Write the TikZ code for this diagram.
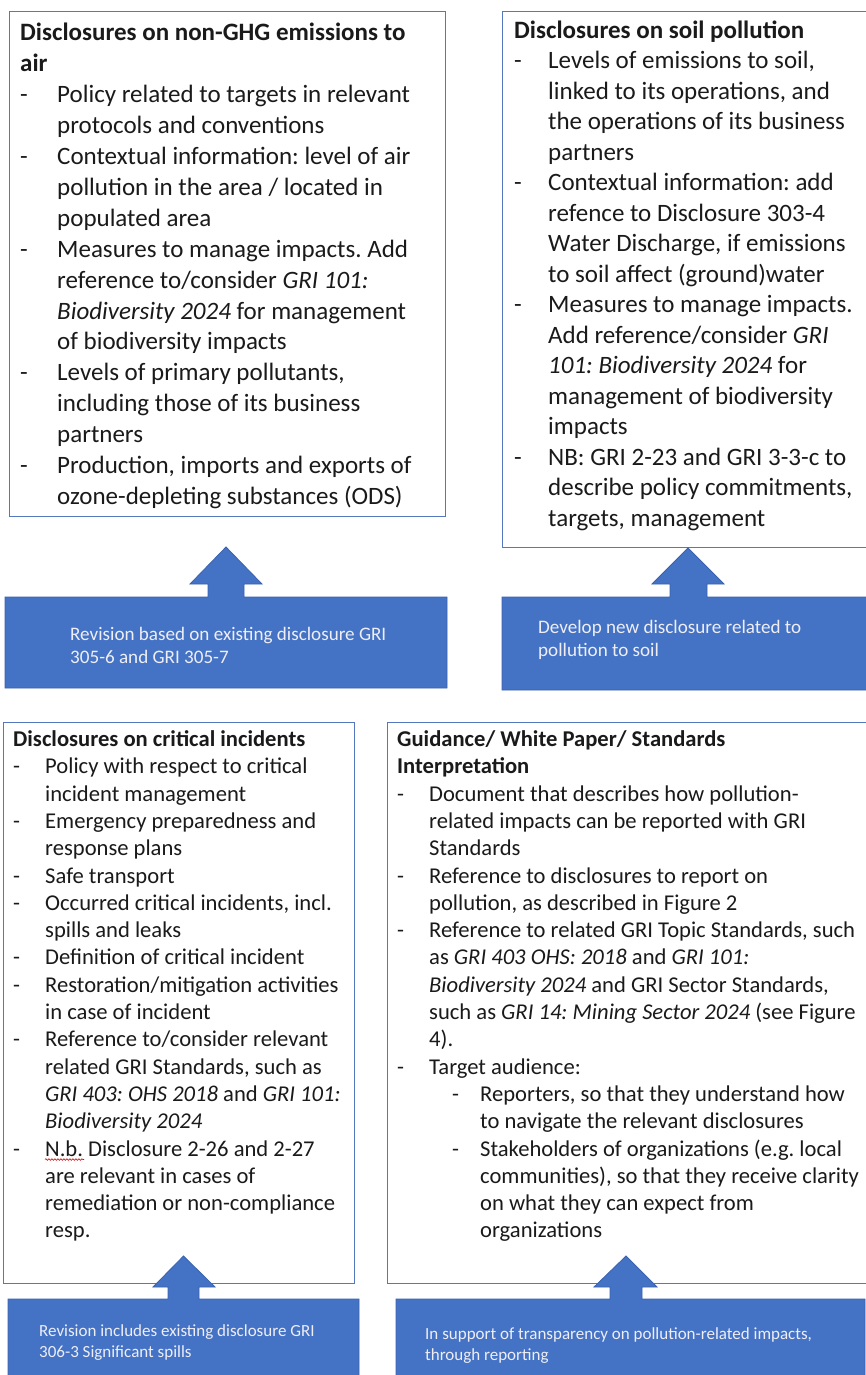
\documentclass[tikz,border=0pt]{standalone}
\usepackage{fontspec}
\setmainfont{Carlito}
\frenchspacing
\usetikzlibrary{decorations.pathmorphing}
\definecolor{gblue}{HTML}{4472C4}
\definecolor{gdark}{HTML}{3A63AD}
\definecolor{boxline}{HTML}{5577BE}
\definecolor{txt}{HTML}{1A1A1A}
\definecolor{ltxt}{HTML}{EEEEF4}
\newcommand{\Ln}[1]{\hbox{#1}}
\newcommand{\Lines}[2]{\vtop{\baselineskip=#1\lineskiplimit=-100pt\lineskip=0pt #2}}
\newcommand{\Bu}[2]{\Ln{\makebox[#1][l]{-}#2}}
\newcommand{\Co}[2]{\Ln{\hskip#1 #2}}
\tikzset{
  panel/.style={draw=boxline, line width=1pt, fill=white},
  callout/.style={fill=gblue, draw=gdark, line width=0.8pt},
  bodytext/.style={anchor=base west, inner sep=0pt, text=txt},
  calltext/.style={anchor=base west, inner sep=0pt, text=ltxt},
}
\begin{document}
\begin{tikzpicture}[x=1pt,y=-1pt]
\useasboundingbox (0,0) rectangle (866,1375);
\fill[white] (0,0) rectangle (866,1375);

% panels
\node[panel, anchor=north west, minimum width=436pt, minimum height=505pt, inner sep=0pt] (p1) at (9,11) {};
\node[panel, anchor=north west, minimum width=363.5pt, minimum height=535.5pt, inner sep=0pt] (p2) at (502,11) {};
\node[panel, anchor=north west, minimum width=351pt, minimum height=561pt, inner sep=0pt] (p3) at (3,722) {};
\node[panel, anchor=north west, minimum width=478.5pt, minimum height=561pt, inner sep=0pt] (p4) at (387,722) {};

% callouts (up-arrow callouts)
\draw[callout] (5,688) -- (5,597) -- (208,597) -- (208,584) -- (190,584) -- (226,547) -- (262,584) -- (244,584) -- (244,597) -- (447,597) -- (447,688) -- cycle;
\draw[callout] (502,690) -- (502,597) -- (670,597) -- (670,584) -- (652,584) -- (688,548) -- (724,584) -- (707,584) -- (707,597) -- (867,597) -- (867,690) -- cycle;
\fill[gblue] (8,1376) -- (8,1299) -- (168,1299) -- (168,1287) -- (153,1287) -- (183.5,1256) -- (215,1287) -- (199,1287) -- (199,1299) -- (359,1299) -- (359,1376) -- cycle;
\draw[callout, fill=none] (8,1376) -- (8,1299) -- (168,1299) -- (168,1287) -- (153,1287) -- (183.5,1256) -- (215,1287) -- (199,1287) -- (199,1299) -- (359,1299) -- (359,1376);
\fill[gblue] (396,1376) -- (396,1299) -- (610,1299) -- (610,1287) -- (594,1287) -- (626,1256) -- (657,1287) -- (642,1287) -- (642,1299) -- (865,1299) -- (865,1376) -- cycle;
\draw[callout, fill=none] (396,1376) -- (396,1299) -- (610,1299) -- (610,1287) -- (594,1287) -- (626,1256) -- (657,1287) -- (642,1287) -- (642,1299) -- (865,1299) -- (865,1376);

% panel 1 text
\node[bodytext, font=\fontsize{25}{31}\selectfont] (t1) at (20,40.5) {\Lines{30.95pt}{%
\Ln{\bfseries Disclosures on non-GHG emissions to}
\Ln{\bfseries air}
\Bu{37pt}{Policy related to targets in relevant}
\Co{37pt}{protocols and conventions}
\Bu{37pt}{Contextual information: level of air}
\Co{37pt}{pollution in the area / located in}
\Co{37pt}{populated area}
\Bu{37pt}{Measures to manage impacts. Add}
\Co{37pt}{reference to/consider \textit{GRI 101:}}
\Co{37pt}{\textit{Biodiversity 2024} for management}
\Co{37pt}{of biodiversity impacts}
\Bu{37pt}{Levels of primary pollutants,}
\Co{37pt}{including those of its business}
\Co{37pt}{partners}
\Bu{37pt}{Production, imports and exports of}
\Co{37pt}{ozone-depleting substances (ODS)}}};

% panel 2 text
\node[bodytext, font=\fontsize{25}{31}\selectfont] (t2) at (514,38.5) {\Lines{30.5pt}{%
\Ln{\bfseries Disclosures on soil pollution}
\Bu{34pt}{Levels of emissions to soil,}
\Co{34pt}{linked to its operations, and}
\Co{34pt}{the operations of its business}
\Co{34pt}{partners}
\Bu{34pt}{Contextual information: add}
\Co{34pt}{refence to Disclosure 303-4}
\Co{34pt}{Water Discharge, if emissions}
\Co{34pt}{to soil affect (ground)water}
\Bu{34pt}{Measures to manage impacts.}
\Co{34pt}{Add reference/consider \textit{GRI}}
\Co{34pt}{\textit{101: Biodiversity 2024} for}
\Co{34pt}{management of biodiversity}
\Co{34pt}{impacts}
\Bu{34pt}{NB: GRI 2-23 and GRI 3-3-c to}
\Co{34pt}{describe policy commitments,}
\Co{34pt}{targets, management}}};

% panel 3 text
\node[bodytext, font=\fontsize{22.6}{27.3}\selectfont] (t3) at (13,746.5) {\Lines{27.3pt}{%
\Ln{\bfseries Disclosures on critical incidents}
\Bu{32pt}{Policy with respect to critical}
\Co{32pt}{incident management}
\Bu{32pt}{Emergency preparedness and}
\Co{32pt}{response plans}
\Bu{32pt}{Safe transport}
\Bu{32pt}{Occurred critical incidents, incl.}
\Co{32pt}{spills and leaks}
\Bu{32pt}{Definition of critical incident}
\Bu{32pt}{Restoration/mitigation activities}
\Co{32pt}{in case of incident}
\Bu{32pt}{Reference to/consider relevant}
\Co{32pt}{related GRI Standards, such as}
\Co{32pt}{\textit{GRI 403: OHS 2018} and \textit{GRI 101:}}
\Co{32pt}{\textit{Biodiversity 2024}}
\Bu{32pt}{N.b. Disclosure 2-26 and 2-27}
\Co{32pt}{are relevant in cases of}
\Co{32pt}{remediation or non-compliance}
\Co{32pt}{resp.}}};
\coordinate (nbA) at (45,1159.5);
\coordinate (nbB) at (84,1159.5);
\draw[red!85!black, line width=0.6pt, decorate, decoration={snake, amplitude=0.8pt, segment length=3pt}] (nbA) -- (nbB);

% panel 4 text
\node[bodytext, font=\fontsize{22.6}{27.3}\selectfont] (t4) at (397,746.5) {\Lines{27.3pt}{%
\Ln{\bfseries Guidance/ White Paper/ Standards}
\Ln{\bfseries Interpretation}
\Bu{32pt}{Document that describes how pollution-}
\Co{32pt}{related impacts can be reported with GRI}
\Co{32pt}{Standards}
\Bu{32pt}{Reference to disclosures to report on}
\Co{32pt}{pollution, as described in Figure 2}
\Bu{32pt}{Reference to related GRI Topic Standards, such}
\Co{32pt}{as \textit{GRI 403 OHS: 2018} and \textit{GRI 101:}}
\Co{32pt}{\textit{Biodiversity 2024} and GRI Sector Standards,}
\Co{32pt}{such as \textit{GRI 14: Mining Sector 2024} (see Figure}
\Co{32pt}{4).}
\Bu{32pt}{Target audience:}
\Ln{\hskip55pt\makebox[28pt][l]{-}Reporters, so that they understand how}
\Co{83pt}{to navigate the relevant disclosures}
\Ln{\hskip55pt\makebox[28pt][l]{-}Stakeholders of organizations (e.g. local}
\Co{83pt}{communities), so that they receive clarity}
\Co{83pt}{on what they can expect from}
\Co{83pt}{organizations}}};

% callout texts
\node[calltext, font=\fontsize{19.1}{23}\selectfont] (c1) at (70,640) {\Lines{23pt}{%
\Ln{Revision based on existing disclosure GRI}
\Ln{305-6 and GRI 305-7}}};
\node[calltext, font=\fontsize{19.1}{23}\selectfont] (c2) at (538,633) {\Lines{23pt}{%
\Ln{Develop new disclosure related to}
\Ln{pollution to soil}}};
\node[calltext, font=\fontsize{17}{21}\selectfont] (c3) at (39,1336) {\Lines{21pt}{%
\Ln{Revision includes existing disclosure GRI}
\Ln{306-3 Significant spills}}};
\node[calltext, font=\fontsize{17}{21}\selectfont] (c4) at (425,1339) {\Lines{21pt}{%
\Ln{In support of transparency on pollution-related impacts,}
\Ln{through reporting}}};
\end{tikzpicture}
\end{document}
